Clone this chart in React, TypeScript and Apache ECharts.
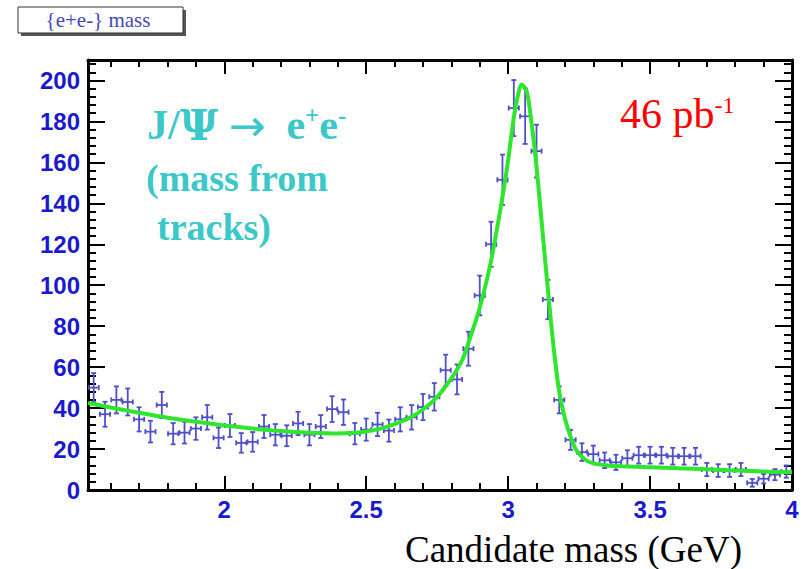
import React, { useEffect, useRef } from "react";
import * as echarts from "echarts";

// Histogram bins (centre of each 0.04 GeV bin)
const binCenters = [
  1.54, 1.58, 1.62, 1.66, 1.70, 1.74, 1.78, 1.82, 1.86, 1.90,
  1.94, 1.98, 2.02, 2.06, 2.10, 2.14, 2.18, 2.22, 2.26, 2.30,
  2.34, 2.38, 2.42, 2.46, 2.50, 2.54, 2.58, 2.62, 2.66, 2.70,
  2.74, 2.78, 2.82, 2.86, 2.90, 2.94, 2.98, 3.02, 3.06, 3.10,
  3.14, 3.18, 3.22, 3.26, 3.30, 3.34, 3.38, 3.42, 3.46, 3.50,
  3.54, 3.58, 3.62, 3.66, 3.70, 3.74, 3.78, 3.82, 3.86, 3.90,
  3.94, 3.98,
];
const counts = [
  50, 37, 44, 43, 34.5, 28.5, 41.5, 27.5, 28, 30,
  35.5, 25.5, 31.5, 23, 23.5, 31, 27, 26.5, 32.5, 27,
  31, 39.5, 38, 27.5, 29.5, 32, 29, 34.5, 35.5, 40.5,
  45.5, 58.5, 54, 69, 95, 120, 151.5, 186.5, 182.5, 165.5,
  93, 44, 24.5, 18.5, 17.5, 14.5, 13.5, 15.5, 17, 17,
  17, 16.5, 16.5, 16.5, 10, 9.5, 9.5, 10, 3.5, 5.5,
  7.5, 9,
];
const errors = [
  7.1, 6.1, 6.6, 6.6, 5.9, 5.3, 6.4, 5.2, 5.3, 5.5,
  6.0, 5.0, 5.6, 4.8, 4.8, 5.6, 5.2, 5.1, 5.7, 5.2,
  5.6, 6.3, 6.2, 5.2, 5.4, 5.7, 5.4, 5.9, 6.0, 6.4,
  6.7, 7.6, 7.3, 8.3, 9.7, 11.0, 12.3, 13.7, 13.5, 12.9,
  9.6, 6.6, 4.9, 4.3, 4.2, 3.8, 3.7, 3.9, 4.1, 4.1,
  4.1, 4.1, 4.1, 4.1, 3.2, 3.1, 3.1, 3.2, 1.9, 2.3,
  2.7, 3.0,
];
const binHalfWidth = 0.018;

// Fit curve
const fitX = [
  1.52, 1.6, 1.7, 1.8, 1.9, 2.0, 2.1, 2.2, 2.3, 2.4,
  2.45, 2.5, 2.55, 2.6, 2.65, 2.7, 2.75, 2.8, 2.84, 2.87,
  2.9, 2.94, 2.98, 3.0, 3.02, 3.035, 3.047, 3.065, 3.08, 3.1,
  3.12, 3.14, 3.16, 3.18, 3.2, 3.22, 3.24, 3.27, 3.3, 3.35,
  3.4, 3.5, 3.6, 3.7, 3.8, 3.9, 4.0,
];
const fitY = [
  42.5, 40.3, 37.7, 35.3, 33.3, 31.5, 30.0, 28.8, 28.0, 27.6,
  27.8, 28.6, 30.0, 32.2, 35.0, 39.3, 45.5, 54.5, 64, 76,
  89, 112, 143, 161, 182, 193, 198, 195, 182, 158,
  128, 98, 70, 48, 35, 26, 19.5, 15, 13, 12,
  11.6, 11.1, 10.6, 10.1, 9.5, 9.0, 8.5,
];

// Axis ticks
const xMajorTicks = [2, 2.5, 3, 3.5, 4];
const xMinorTicks = [
  1.6, 1.7, 1.8, 1.9, 2.1, 2.2, 2.3, 2.4, 2.6, 2.7, 2.8, 2.9,
  3.1, 3.2, 3.3, 3.4, 3.6, 3.7, 3.8, 3.9,
];
const yMajorTicks = [0, 20, 40, 60, 80, 100, 120, 140, 160, 180, 200];
const yMinorTicks = [
  4, 8, 12, 16, 24, 28, 32, 36, 44, 48, 52, 56, 64, 68, 72, 76,
  84, 88, 92, 96, 104, 108, 112, 116, 124, 128, 132, 136, 144, 148,
  152, 156, 164, 168, 172, 176, 184, 188, 192, 196, 204, 208,
];

const X_MIN = 1.52;
const X_MAX = 4;
const Y_MIN = 0;
const Y_MAX = 210;

const labelColor = "#1a1acc";
const markColor = "#4f4fc8";
const fitColor = "#2ee62e";
const cyan = "#3cc8c8";

export default function App() {
  const ref = useRef<HTMLDivElement>(null);

  useEffect(() => {
    document.body.style.margin = "0";
    const chart = echarts.init(ref.current!, null, { renderer: "svg" });

    const labelStyle = {
      color: labelColor,
      fontSize: 24,
      fontWeight: "bold" as const,
      fontFamily: "Liberation Sans, Arial, sans-serif",
    };

    const makeX = (pos: "bottom" | "top", major: boolean) => ({
      type: "value",
      min: X_MIN,
      max: X_MAX,
      position: pos,
      axisLine: {
        show: major,
        onZero: false,
        lineStyle: { color: "#000", width: 3 },
      },
      axisTick: {
        show: true,
        inside: true,
        length: major ? 14 : 7,
        customValues: major ? xMajorTicks : xMinorTicks,
        lineStyle: { color: "#000", width: 2 },
      },
      axisLabel:
        major && pos === "bottom"
          ? { ...labelStyle, customValues: xMajorTicks, margin: 7 }
          : { show: false },
      splitLine: { show: false },
    });

    const makeY = (pos: "left" | "right", major: boolean) => ({
      type: "value",
      min: Y_MIN,
      max: Y_MAX,
      position: pos,
      axisLine: {
        show: major,
        onZero: false,
        lineStyle: { color: "#000", width: 3 },
      },
      axisTick: {
        show: true,
        inside: true,
        length: major ? 17 : 8,
        customValues: major ? yMajorTicks : yMinorTicks,
        lineStyle: { color: "#000", width: 2 },
      },
      axisLabel:
        major && pos === "left"
          ? { ...labelStyle, customValues: yMajorTicks, margin: 8 }
          : { show: false },
      splitLine: { show: false },
    });

    const errData = binCenters.map((x, i) => [x, counts[i], errors[i]]);
    const fitData = fitX.map((x, i) => [x, fitY[i]]);

    chart.setOption({
      animation: false,
      backgroundColor: "#ffffff",
      grid: { left: 88, right: 11, top: 60, bottom: 79 },
      xAxis: [
        makeX("bottom", true),
        makeX("bottom", false),
        makeX("top", true),
        makeX("top", false),
      ],
      yAxis: [
        makeY("left", true),
        makeY("left", false),
        makeY("right", true),
        makeY("right", false),
      ],
      series: [
        {
          type: "custom",
          name: "data",
          xAxisIndex: 0,
          yAxisIndex: 0,
          clip: true,
          data: errData,
          renderItem: (params: any, api: any) => {
            const x = api.value(0);
            const y = api.value(1);
            const e = api.value(2);
            const c = api.coord([x, y]);
            const t = api.coord([x, y + e]);
            const b = api.coord([x, y - e]);
            const l = api.coord([x - binHalfWidth, y]);
            const r = api.coord([x + binHalfWidth, y]);
            const cap = 2.5;
            const style = { stroke: markColor, lineWidth: 1.8 };
            return {
              type: "group",
              children: [
                { type: "line", shape: { x1: c[0], y1: t[1], x2: c[0], y2: b[1] }, style },
                { type: "line", shape: { x1: l[0], y1: c[1], x2: r[0], y2: c[1] }, style },
                { type: "line", shape: { x1: c[0] - cap, y1: t[1], x2: c[0] + cap, y2: t[1] }, style },
                { type: "line", shape: { x1: c[0] - cap, y1: b[1], x2: c[0] + cap, y2: b[1] }, style },
                { type: "line", shape: { x1: l[0], y1: c[1] - cap, x2: l[0], y2: c[1] + cap }, style },
                { type: "line", shape: { x1: r[0], y1: c[1] - cap, x2: r[0], y2: c[1] + cap }, style },
              ],
            };
          },
          z: 2,
        },
        {
          type: "line",
          name: "fit",
          xAxisIndex: 0,
          yAxisIndex: 0,
          data: fitData,
          smooth: 0.3,
          showSymbol: false,
          symbol: "none",
          lineStyle: { color: fitColor, width: 4 },
          clip: true,
          z: 3,
        },
      ],
      graphic: [
        { type: "rect", shape: { x: 21, y: 10, width: 165, height: 26 }, style: { fill: "#555" }, z: 10 },
        { type: "rect", shape: { x: 18, y: 7, width: 165, height: 26 }, style: { fill: "#fff", stroke: "#333", lineWidth: 1 }, z: 11 },
        {
          type: "text",
          x: 98,
          y: 20,
          z: 12,
          style: {
            text: "{e+e-} mass",
            fill: "#4848b8",
            font: "21px 'Liberation Serif', 'Times New Roman', serif",
            align: "center",
            verticalAlign: "middle",
          },
        },
        {
          type: "text",
          x: 147,
          y: 125,
          z: 12,
          style: {
            text: "J/{psi|Ψ} {arr|→}  e{sup|+}e{sup|-}",
            fill: cyan,
            font: "bold 42px 'Liberation Serif', 'Times New Roman', serif",
            align: "left",
            verticalAlign: "middle",
            rich: {
              psi: {
                fill: cyan,
                fontSize: 42,
                fontWeight: "bold",
                fontFamily: "DejaVu Serif",
              },
              arr: {
                fill: cyan,
                fontSize: 44,
                fontFamily: "DejaVu Sans",
              },
              sup: {
                fill: cyan,
                fontSize: 25,
                fontWeight: "bold",
                fontFamily: "Liberation Serif",
                verticalAlign: "top",
              },
            },
          },
        },
        {
          type: "text",
          x: 146,
          y: 178,
          z: 12,
          style: {
            text: "(mass from",
            fill: cyan,
            font: "bold 38px 'Liberation Serif', 'Times New Roman', serif",
            align: "left",
            verticalAlign: "middle",
          },
        },
        {
          type: "text",
          x: 157,
          y: 227,
          z: 12,
          style: {
            text: "tracks)",
            fill: cyan,
            font: "bold 38px 'Liberation Serif', 'Times New Roman', serif",
            align: "left",
            verticalAlign: "middle",
          },
        },
        {
          type: "text",
          x: 620,
          y: 114,
          z: 12,
          style: {
            text: "46 pb{sup|-1}",
            fill: "#ff0000",
            font: "42px 'Liberation Serif', 'Times New Roman', serif",
            align: "left",
            verticalAlign: "middle",
            rich: {
              sup: {
                fill: "#ff0000",
                fontSize: 24,
                fontFamily: "Liberation Serif",
                verticalAlign: "top",
              },
            },
          },
        },
        {
          type: "text",
          x: 405,
          y: 549,
          z: 12,
          style: {
            text: "Candidate mass (GeV)",
            fill: "#000",
            font: "37px 'Liberation Serif', 'Times New Roman', serif",
            align: "left",
            verticalAlign: "middle",
          },
        },
      ],
    });

    return () => chart.dispose();
  }, []);

  return <div ref={ref} style={{ width: 803, height: 569 }} />;
}
